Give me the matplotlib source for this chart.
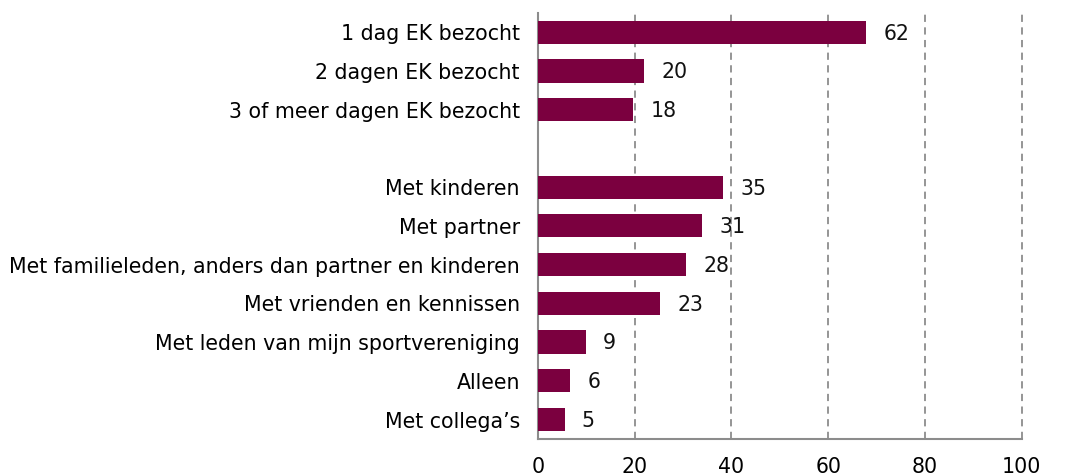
import matplotlib
matplotlib.use('Agg')
import matplotlib.pyplot as plt

# ── Data ──────────────────────────────────────────────────────────────────────
labels = [
    '1 dag EK bezocht',
    '2 dagen EK bezocht',
    '3 of meer dagen EK bezocht',
    '',
    'Met kinderen',
    'Met partner',
    'Met familieleden, anders dan partner en kinderen',
    'Met vrienden en kennissen',
    'Met leden van mijn sportvereniging',
    'Alleen',
    'Met collega\u2019s',
]
values = [62, 20, 18, None, 35, 31, 28, 23, 9, 6, 5]
xticks = [0, 20, 40, 60, 80, 100]

BAR_COLOR = '#7b003f'
GRID_COLOR = '#8c8c8c'
FS = 14.8

fig = plt.figure(figsize=(10.88, 4.75), dpi=100)
ax = fig.add_axes([0.4945, 0.076, 0.4445, 0.897])

# bars sit on their own x scale (the source chart stretches them ~1.095x
# relative to the gridline scale)
axb = ax.twiny()
axb.set_xlim(0, 91.3)
axb.axis('off')

pos = list(range(len(labels)))
for y, v in zip(pos, values):
    if v is None:
        continue
    axb.barh(y, v, height=0.6, color=BAR_COLOR, zorder=3)
    axb.annotate(str(v), (v, y), xytext=(12.5, -1), textcoords='offset points',
                 va='center', ha='left', fontsize=FS, color='#111111')

for a in (ax, axb):
    a.set_ylim(len(labels) - 0.5, -0.5)
ax.set_xlim(0, 100)
ax.set_yticks(pos)
ax.set_yticklabels(labels, fontsize=FS)
ax.set_xticks(xticks)
ax.set_xticklabels([str(t) for t in xticks], fontsize=FS)
ax.tick_params(axis='both', length=0)
ax.tick_params(axis='y', pad=13)
ax.tick_params(axis='x', pad=13)

ax.xaxis.grid(True, color=GRID_COLOR, ls=(0, (4, 3)), lw=1.3, zorder=1)
for gl in ax.get_xgridlines():
    gl.set_clip_on(False)
ax.set_axisbelow(True)
for s in ['top', 'right']:
    ax.spines[s].set_visible(False)
ax.spines['left'].set_color(GRID_COLOR)
ax.spines['bottom'].set_color(GRID_COLOR)
ax.spines['left'].set_linewidth(1.5)
ax.spines['bottom'].set_linewidth(1.5)

fig.savefig('out.png', dpi=100)
